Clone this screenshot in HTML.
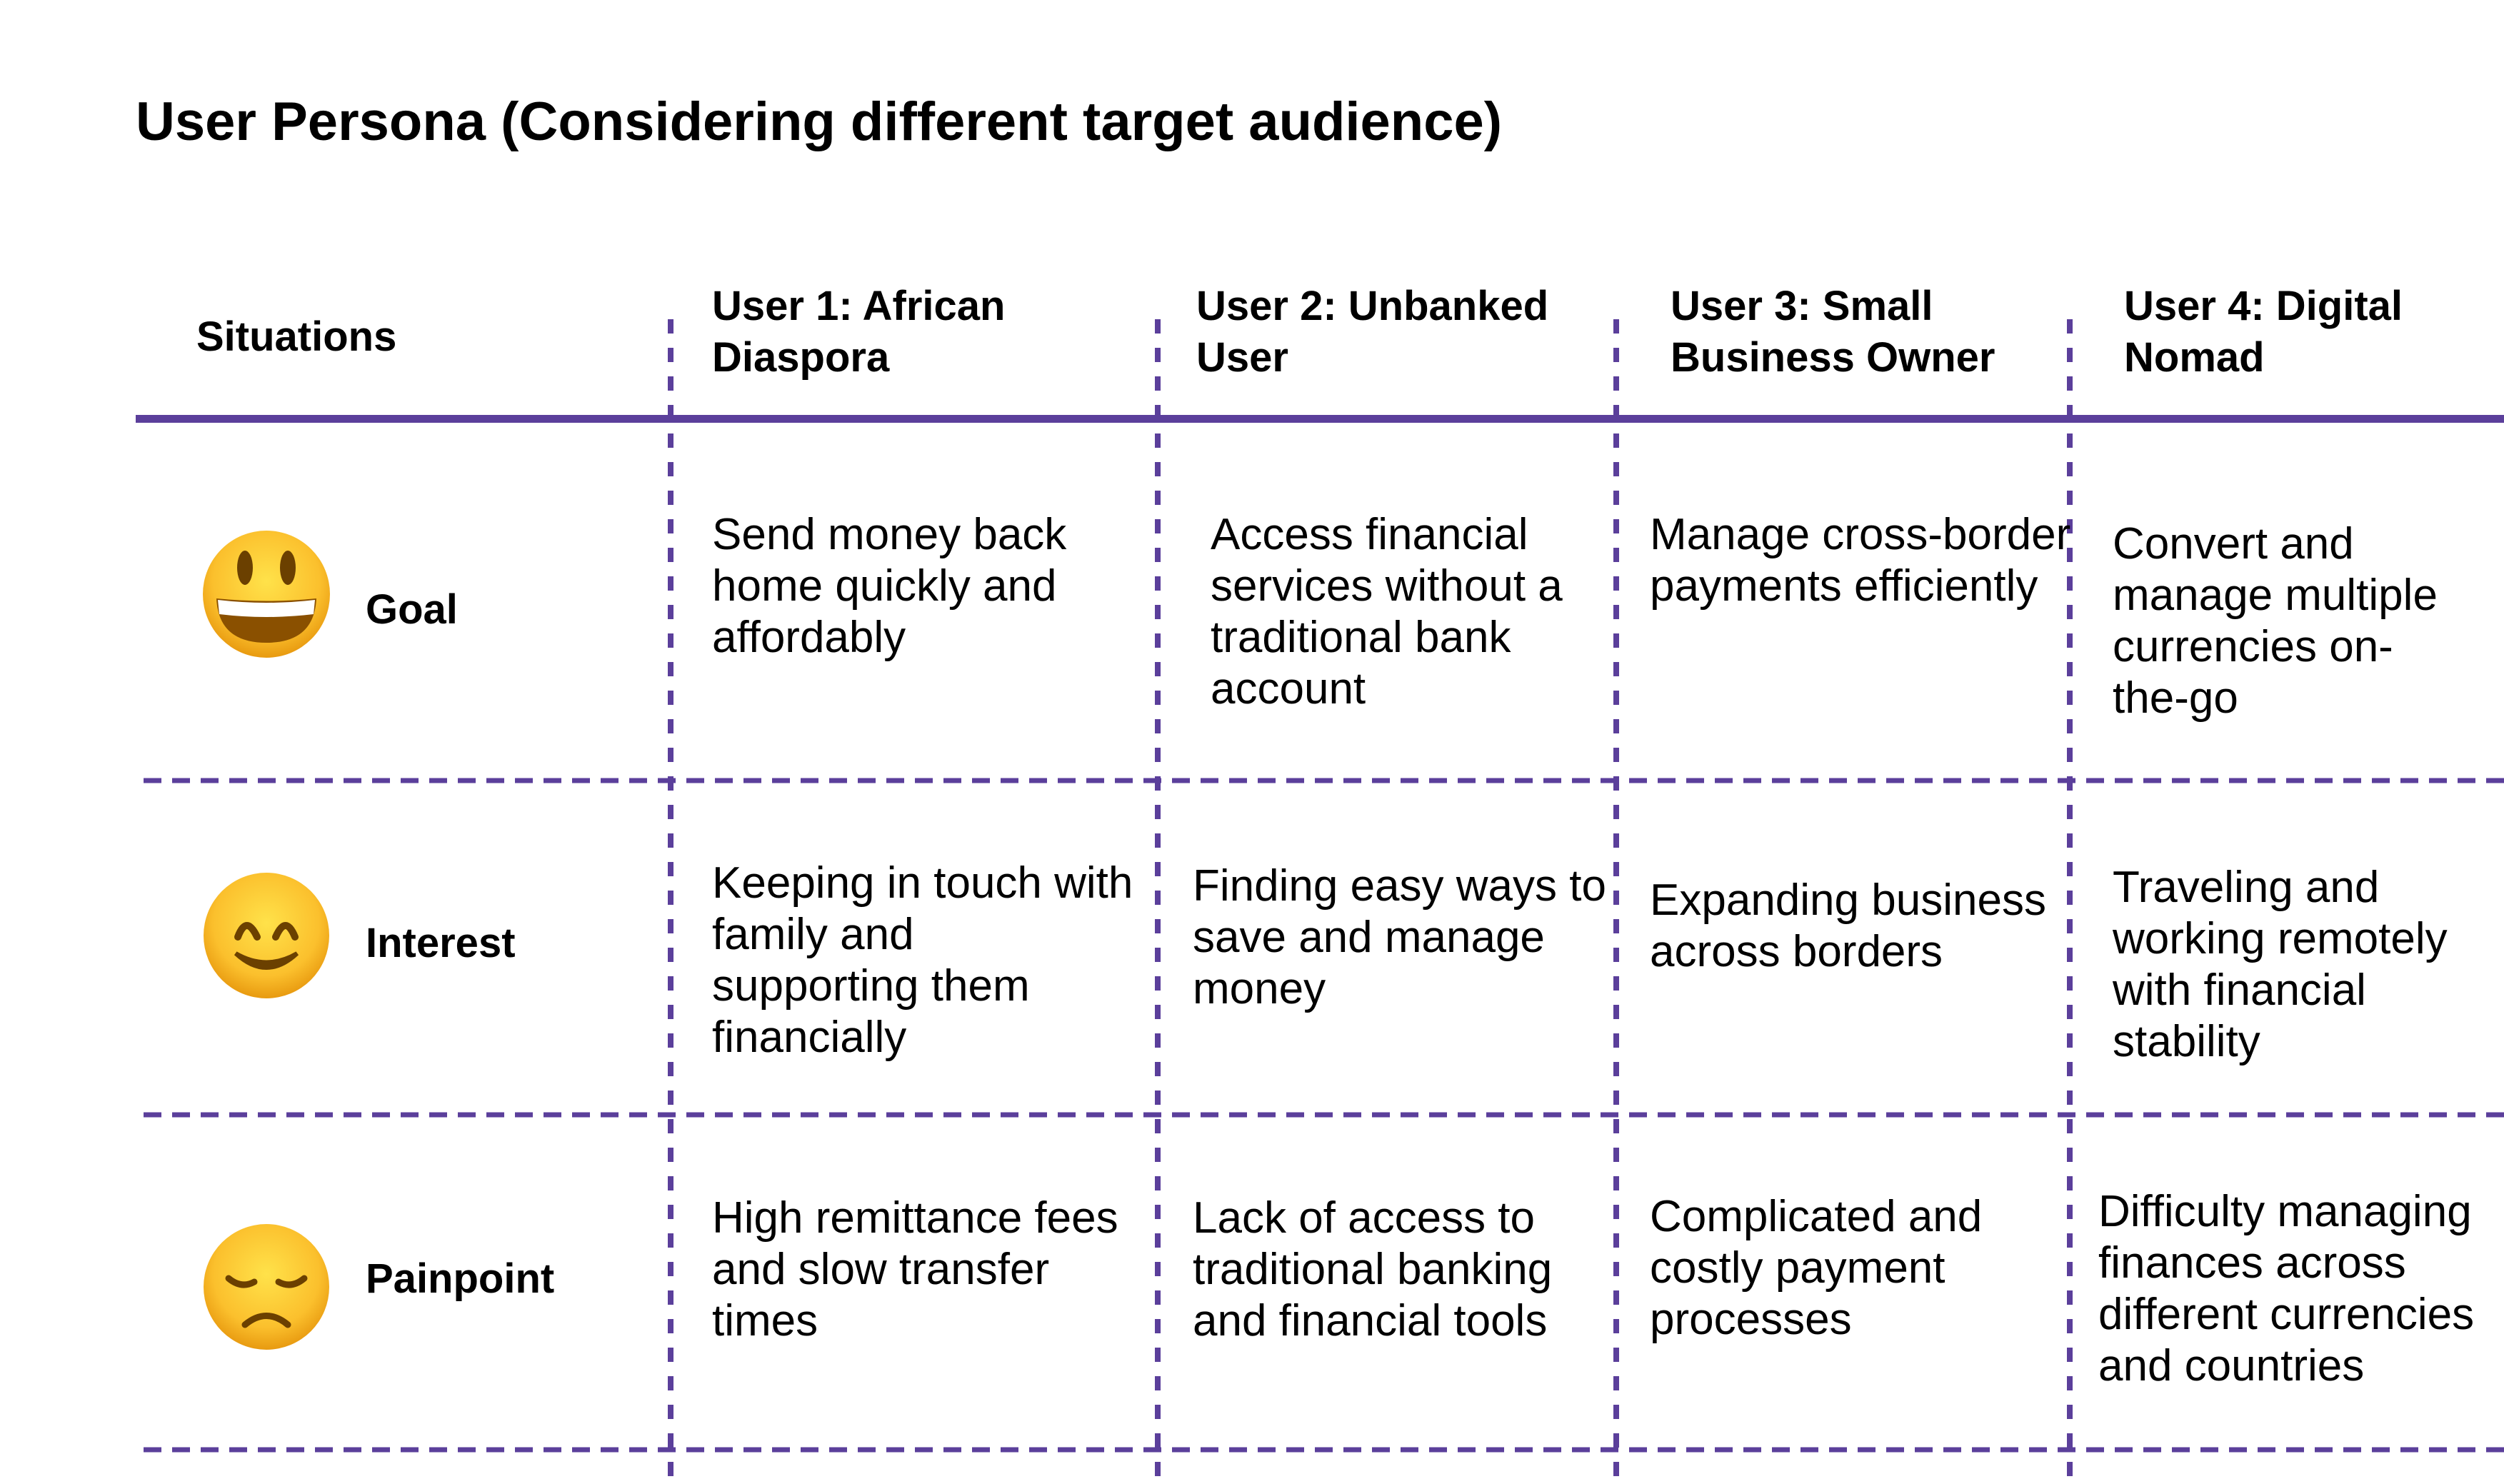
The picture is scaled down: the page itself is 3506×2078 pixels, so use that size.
<!DOCTYPE html>
<html><head><meta charset="utf-8"><style>
html,body{margin:0;padding:0;background:#fff;}
body{width:3506px;height:2078px;position:relative;overflow:hidden;font-family:"Liberation Sans",sans-serif;color:#000;}
.t{position:absolute;white-space:nowrap;font-size:62px;line-height:72px;}
.b{font-weight:bold;font-size:58px;}
svg{position:absolute;left:0;top:0;}
</style></head><body>
<svg width="3506" height="2078">
<defs>
<radialGradient id="g" cx="50%" cy="40%" r="60%"><stop offset="0" stop-color="#ffe24a"/><stop offset="0.7" stop-color="#fbc02d"/><stop offset="1" stop-color="#e89a10"/></radialGradient>
</defs>
<rect x="190" y="581" width="3316" height="11" fill="#5b3f9b"/>
<g stroke="#5b3f9b" stroke-width="8" stroke-dasharray="20 20">
<line x1="939" y1="447" x2="939" y2="2078"/>
<line x1="1621" y1="447" x2="1621" y2="2078"/>
<line x1="2263" y1="447" x2="2263" y2="2078"/>
<line x1="2898" y1="447" x2="2898" y2="2078"/>
</g>
<g stroke="#5b3f9b" stroke-width="7" stroke-dasharray="25 15">
<line x1="201" y1="1093" x2="3506" y2="1093"/>
<line x1="201" y1="1561" x2="3506" y2="1561"/>
<line x1="201" y1="2030" x2="3506" y2="2030"/>
</g>
<circle cx="373" cy="832" r="89" fill="url(#g)"/>
<ellipse cx="343" cy="795" rx="11" ry="24" fill="#6b4000"/>
<ellipse cx="403" cy="795" rx="11" ry="24" fill="#6b4000"/>
<path d="M303 838 Q373 845 443 838 Q440 900 373 900 Q306 900 303 838Z" fill="#8a5000"/>
<path d="M305 840 Q373 848 441 840 L439 860 Q373 868 307 860Z" fill="#fff"/>
<circle cx="373" cy="1310" r="88" fill="url(#g)"/>
<path d="M333 1312 Q345 1280 360 1312" stroke="#6b4000" stroke-width="10" fill="none" stroke-linecap="round"/>
<path d="M386 1312 Q400 1280 413 1312" stroke="#6b4000" stroke-width="10" fill="none" stroke-linecap="round"/>
<path d="M330 1335 Q373 1375 416 1335 Q373 1360 330 1335Z" fill="#6b4000" stroke="#6b4000" stroke-width="6"/>
<circle cx="373" cy="1802" r="88" fill="url(#g)"/>
<path d="M320 1790 Q338 1805 356 1795" stroke="#6b4000" stroke-width="9" fill="none" stroke-linecap="round"/>
<path d="M390 1795 Q408 1805 426 1790" stroke="#6b4000" stroke-width="9" fill="none" stroke-linecap="round"/>
<path d="M343 1855 Q373 1830 403 1855" stroke="#6b4000" stroke-width="9" fill="none" stroke-linecap="round"/>
</svg>

<div class="t b" style="left:190px;top:126px;font-size:76px;line-height:90px;">User Persona (Considering different target audience)</div>

<div class="t b" style="left:275px;top:436px;">Situations</div>
<div class="t b" style="left:997px;top:393px;">User 1: African<br>Diaspora</div>
<div class="t b" style="left:1675px;top:393px;">User 2: Unbanked<br>User</div>
<div class="t b" style="left:2339px;top:393px;">User 3: Small<br>Business Owner</div>
<div class="t b" style="left:2974px;top:393px;">User 4: Digital<br>Nomad</div>

<div class="t b" style="left:512px;top:818px;">Goal</div>
<div class="t b" style="left:512px;top:1285px;">Interest</div>
<div class="t b" style="left:512px;top:1755px;">Painpoint</div>

<div class="t" style="left:997px;top:713px;">Send money back<br>home quickly and<br>affordably</div>
<div class="t" style="left:1695px;top:713px;">Access financial<br>services without a<br>traditional bank<br>account</div>
<div class="t" style="left:2310px;top:713px;">Manage cross-border<br>payments efficiently</div>
<div class="t" style="left:2958px;top:726px;">Convert and<br>manage multiple<br>currencies on-<br>the-go</div>

<div class="t" style="left:997px;top:1201px;">Keeping in touch with<br>family and<br>supporting them<br>financially</div>
<div class="t" style="left:1670px;top:1205px;">Finding easy ways to<br>save and manage<br>money</div>
<div class="t" style="left:2310px;top:1225px;">Expanding business<br>across borders</div>
<div class="t" style="left:2958px;top:1207px;">Traveling and<br>working remotely<br>with financial<br>stability</div>

<div class="t" style="left:997px;top:1670px;">High remittance fees<br>and slow transfer<br>times</div>
<div class="t" style="left:1670px;top:1670px;">Lack of access to<br>traditional banking<br>and financial tools</div>
<div class="t" style="left:2310px;top:1668px;">Complicated and<br>costly payment<br>processes</div>
<div class="t" style="left:2938px;top:1661px;">Difficulty managing<br>finances across<br>different currencies<br>and countries</div>
</body></html>
